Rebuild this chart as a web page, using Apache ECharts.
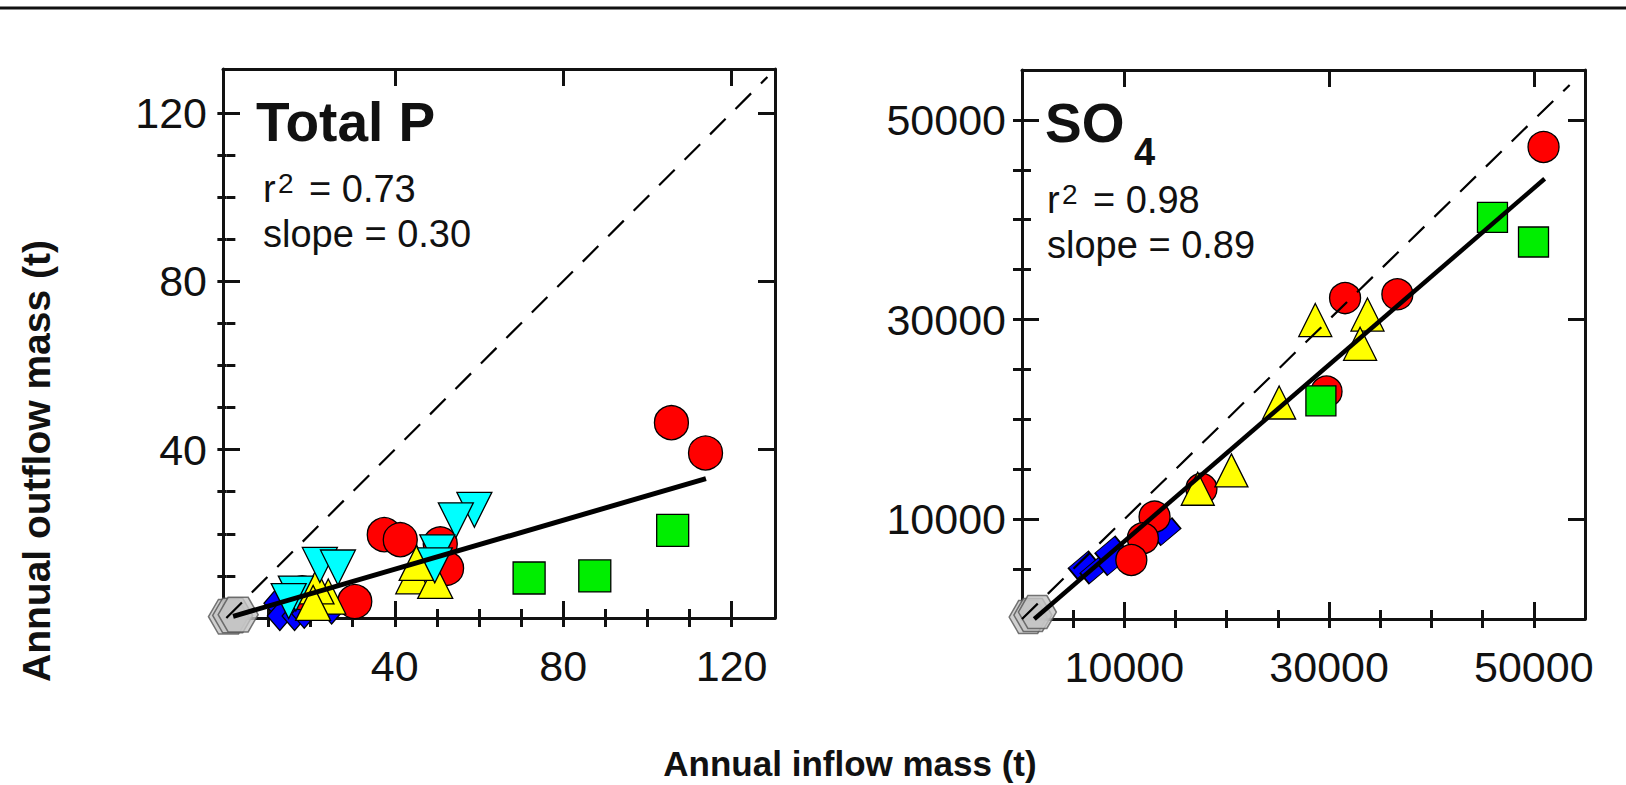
<!DOCTYPE html>
<html><head><meta charset="utf-8">
<script src="https://cdn.jsdelivr.net/npm/echarts@6/dist/echarts.min.js"></script>
<style>html,body{margin:0;padding:0;background:#fff}#c{width:1626px;height:785px}</style>
</head><body><div id="c"></div>
<script>
// ---------- Total P panel (t) ----------
const pGray   = [[0.5,0.3],[1.5,0.6],[2.8,0.8]];
const pBlue   = [[11.9,3.5],[12.7,0.5],[16.2,0.5],[18.5,1.0],[25.0,2.0]];
const pRed    = [[105.7,46.4],[113.8,39.2],[37.5,19.8],[41.3,18.6],[50.8,17.6],[52.3,11.8],[30.5,3.9],[18.0,6.0]];
const pGreen  = [[71.9,9.5],[87.5,10.0],[106.0,20.8]];
const pYellow = [[44.4,9.9],[49.6,8.8],[45.2,13.1],[24.2,5.1],[21.4,7.5],[20.6,3.6]];
const pCyan   = [[58.9,25.7],[54.5,23.2],[50.1,15.6],[49.5,12.5],[22.2,12.6],[26.5,12.0],[16.5,5.8],[14.8,4.0]];
const pFit    = [[1.6,0.4],[113.9,33.1]];
const pOneToOne = [[0,0],[128.5,128.5]];
const pMajor  = [40,80,120];
const pMinor  = [10,20,30,40,50,60,70,80,90,100,110,120];
const pLabels = ['40','80','120'];

// ---------- SO4 panel (t) ----------
const sGray   = [[600,200],[1060,400],[1500,700]];
const sBlue   = [[5940,5410],[7090,4910],[8550,6910],[8880,5740],[14100,8750]];
const sRed    = [[50950,47290],[31560,32150],[36670,32530],[29750,22790],[17530,13050],[12950,10250],[11810,8090],[10680,5910]];
const sGreen  = [[45960,40240],[49970,37770],[29200,21860]];
const sYellow = [[28650,29950],[33750,30500],[33030,27570],[25120,21690],[20460,14890],[17170,13050]];
const sFit    = [[1200,0],[51060,44100]];
const sOneToOne = [[0,0],[53500,53500]];
const sMajor  = [10000,30000,50000];
const sMinor  = [5000,10000,15000,20000,25000,30000,35000,40000,45000,50000];
const sLabels = ['10000','30000','50000'];

const FONT = "'Liberation Sans', Arial, Helvetica, sans-serif";
const INK = '#111';
const HEX = 'path://M-1,0 L-0.5,-0.866 L0.5,-0.866 L1,0 L0.5,0.866 L-0.5,0.866 Z';

function labelFmt(major, labels){ return v => { const i = major.indexOf(v); return i >= 0 ? labels[i] : ''; }; }

function makeAxes(dim, grid, min, max, major, minor, labels){
  const isX = dim === 'x';
  const mainPos = isX ? 'bottom' : 'left', mirPos = isX ? 'top' : 'right';
  const base = {type:'value', gridIndex:grid, min:min, max:max, splitLine:{show:false}, axisPointer:{show:false}};
  const line = {show:true, onZero:false, lineStyle:{color:INK, width:3}};
  return [
    Object.assign({}, base, {position:mainPos, axisLine:line,
      axisTick:{show:true, inside:true, length:17, customValues:major, lineStyle:{color:INK, width:3}},
      axisLabel:{show:true, customValues:major, formatter:labelFmt(major, labels), fontSize:43, color:INK, fontFamily:FONT, margin: isX ? 26 : 16}}),
    Object.assign({}, base, {position:mainPos, axisLine:{show:false},
      axisTick:{show:true, inside:true, length:9, customValues:minor, lineStyle:{color:INK, width:3}},
      axisLabel:{show:false}}),
    Object.assign({}, base, {position:mirPos, axisLine:line,
      axisTick:{show:true, inside:true, length:17, customValues:major, lineStyle:{color:INK, width:3}},
      axisLabel:{show:false}}),
    Object.assign({}, base, {position:mirPos, axisLine:{show:false},
      axisTick:{show:true, inside:true, length:9, customValues:minor, lineStyle:{color:INK, width:3}},
      axisLabel:{show:false}})
  ];
}

function scat(name, data, xi, yi, symbol, size, color, extra){
  return Object.assign({type:'scatter', name:name, data:data, xAxisIndex:xi, yAxisIndex:yi,
    symbol:symbol, symbolSize:size, silent:true,
    itemStyle:{color:color, borderColor:'#000', borderWidth:1.3, opacity:1}}, extra||{});
}
function lineS(data, xi, yi, width, type){
  return {type:'line', data:data, xAxisIndex:xi, yAxisIndex:yi, showSymbol:false, symbol:'none', silent:true,
    lineStyle:{color:'#000', width:width, type:type||'solid'}, z:5};
}
function panelSeries(xi, yi, d, sz){
  return [
    scat('gray', d.gray, xi, yi, HEX, sz.hex, '#c4c4c4', {symbolKeepAspect:true, itemStyle:{color:'#c4c4c4', borderColor:'#555', borderWidth:1.5}}),
    scat('blue', d.blue, xi, yi, sz.diaSym, sz.dia, '#0000ff', {symbolRotate: sz.diaRot}),
    scat('red', d.red, xi, yi, 'circle', sz.cir, '#ff0000'),
    scat('green', d.green, xi, yi, 'rect', sz.sq, '#00ee00'),
    scat('yellow', d.yellow, xi, yi, 'triangle', sz.tri, '#ffff00'),
    d.cyan ? scat('cyan', d.cyan, xi, yi, 'triangle', sz.tri, '#00ffff', {symbolRotate:180}) : null,
    lineS(d.one, xi, yi, 2.2, [22,14]),
    lineS(d.fit, xi, yi, sz.fitW)
  ].filter(Boolean);
}

function txt(text, x, y, size, bold, opts){
  return {type:'text', x:x, y:y, silent:true, z:100,
    style:Object.assign({text:text, fill:INK, fontSize:size, fontFamily:FONT, fontWeight: bold ? 'bold' : 'normal',
      font:(bold?'bold ':'') + size + 'px ' + FONT,
      textAlign:'left', align:'left', textVerticalAlign:'middle', verticalAlign:'middle'}, opts||{})};
}

const xAxes = [].concat(makeAxes('x',0,-0.8,130.3,pMajor,pMinor,pLabels), makeAxes('x',1,0,55000,sMajor,sMinor,sLabels));
const yAxes = [].concat(makeAxes('y',0,0,130.4,pMajor,pMinor,pLabels), makeAxes('y',1,0,55000,sMajor,sMinor,sLabels));

const series = [].concat(
  panelSeries(0, 0, {gray:pGray, blue:pBlue, red:pRed, green:pGreen, yellow:pYellow, cyan:pCyan, one:pOneToOne, fit:pFit},
    {hex:40, diaSym:'diamond', dia:[25,29], diaRot:0, cir:34, sq:32, tri:35, fitW:5}),
  panelSeries(4, 4, {gray:sGray, blue:sBlue, red:sRed, green:sGreen, yellow:sYellow, one:sOneToOne, fit:sFit},
    {hex:38, diaSym:'rect', dia:[26,14], diaRot:40, cir:31, sq:30, tri:33, fitW:4.5})
);

const yTitle = txt('Annual outflow mass (t)', 36, 461, 39, true, {textAlign:'center', align:'center'});
yTitle.rotation = Math.PI/2;

const graphic = [
  {type:'line', shape:{x1:0, y1:8, x2:1626, y2:8}, style:{stroke:'#111', lineWidth:3}, silent:true},
  // Total P annotations
  txt('Total P', 256, 122, 55, true),
  txt('r', 263, 189, 38, false),
  txt('2', 278, 183, 28, false),
  txt('= 0.73', 309, 189, 38, false),
  txt('slope = 0.30', 263, 234, 38, false),
  // SO4 annotations
  txt('SO', 1045, 123, 55, true),
  txt('4', 1134, 152, 38, true),
  txt('r', 1047, 200, 38, false),
  txt('2', 1062, 194, 28, false),
  txt('= 0.98', 1093, 200, 38, false),
  txt('slope = 0.89', 1047, 245, 38, false),
  // axis titles
  yTitle,
  txt('Annual inflow mass (t)', 850, 763, 35, true, {textAlign:'center', align:'center'})
];

const chart = echarts.init(document.getElementById('c'), null, {renderer:'svg'});
chart.setOption({
  backgroundColor:'#ffffff',
  animation:false,
  grid:[
    {left:223, top:69, width:552, height:549, containLabel:false},
    {left:1022, top:70, width:563, height:549, containLabel:false}
  ],
  xAxis:xAxes,
  yAxis:yAxes,
  series:series,
  graphic:graphic
});
</script>
</body></html>
